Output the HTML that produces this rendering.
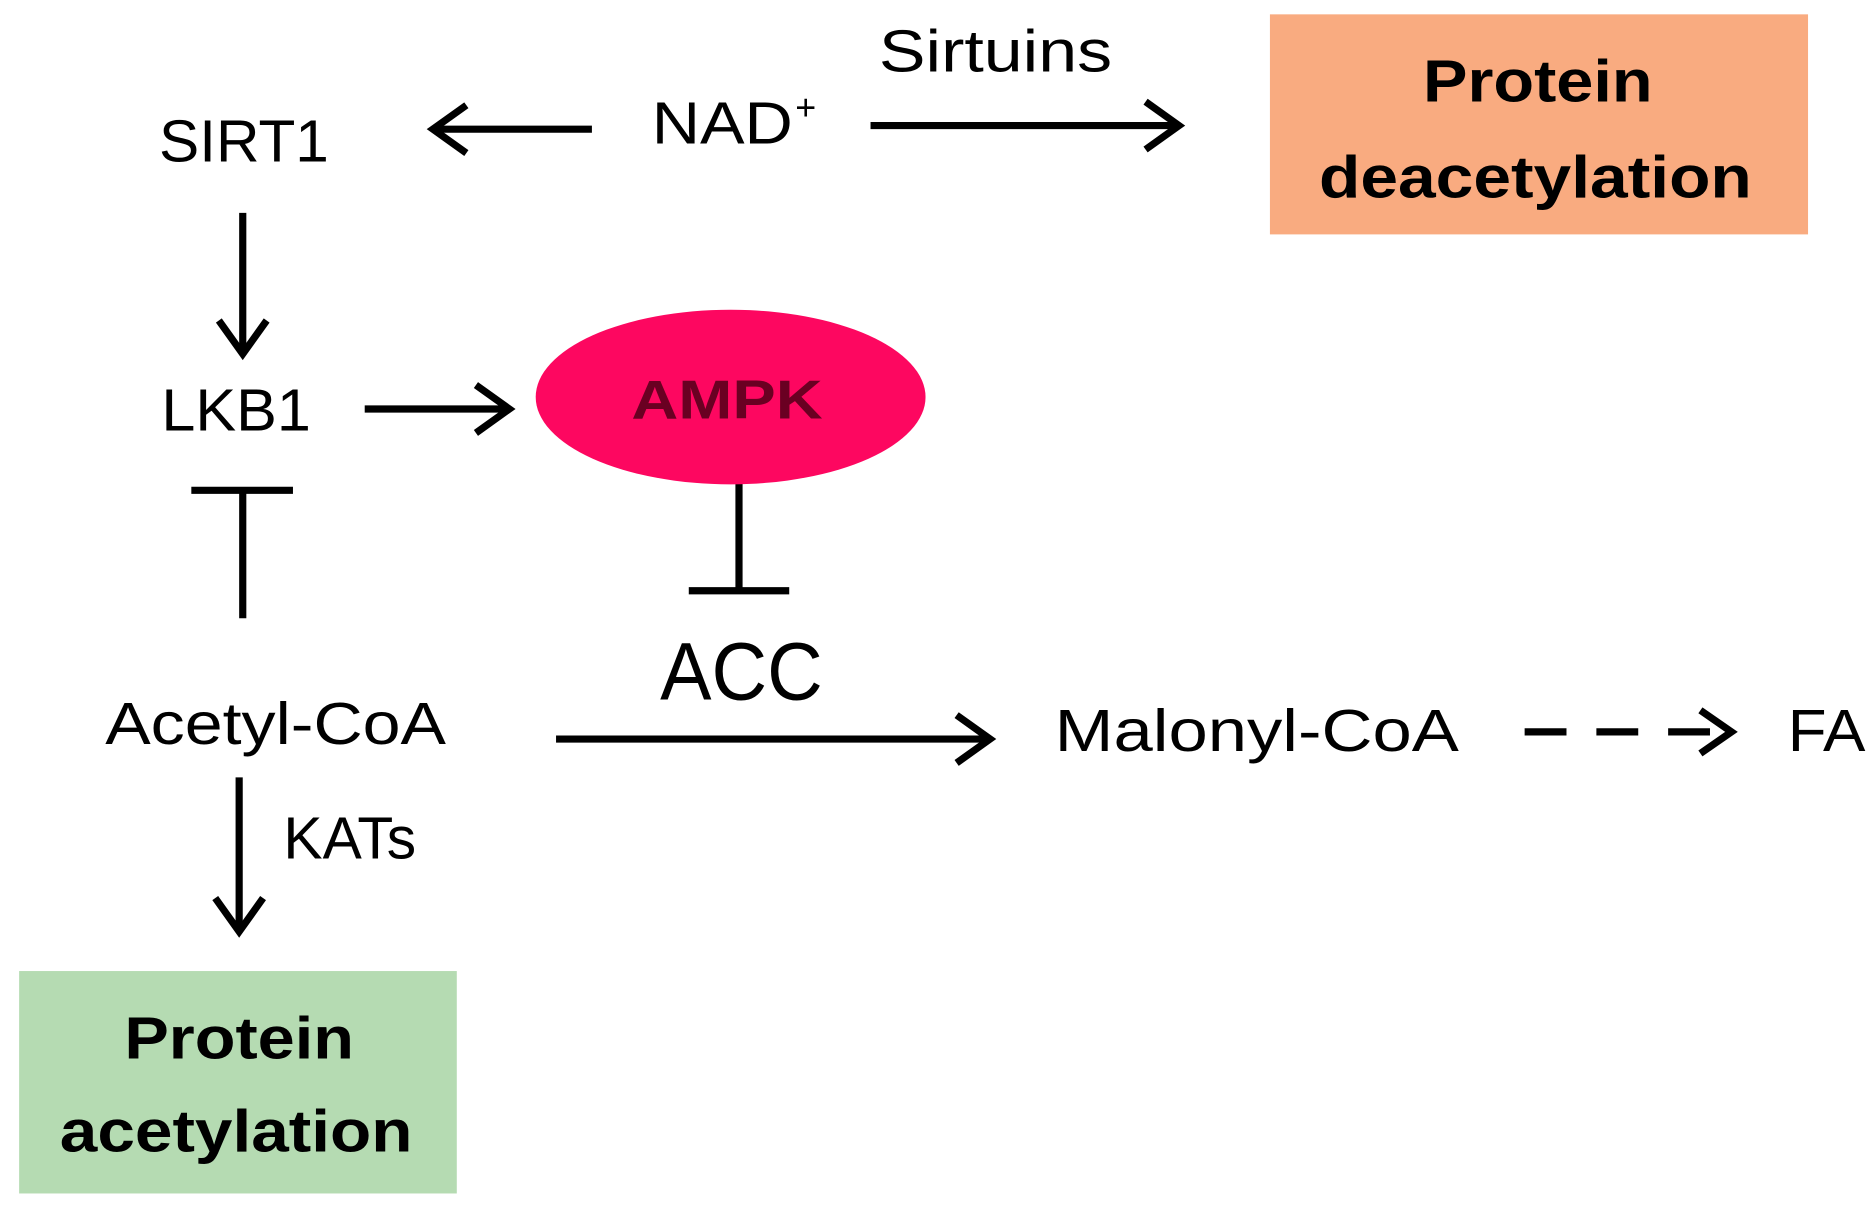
<!DOCTYPE html>
<html><head><meta charset="utf-8"><style>html,body{margin:0;padding:0;background:#fff}svg{display:block}</style></head>
<body>
<svg width="1875" height="1215" viewBox="0 0 1568 1016" preserveAspectRatio="none" xmlns="http://www.w3.org/2000/svg" font-family="'Liberation Sans', sans-serif">
<defs>
<marker id="a" viewBox="0 0 20 20" refX="17" refY="10" markerWidth="6" markerHeight="6" markerUnits="userSpaceOnUse" orient="auto" overflow="visible">
<path d="M-2,-12 L17,10 L-2,32" fill="none" stroke="#000" stroke-width="6" transform="scale(1)"/>
</marker>
</defs>
<g stroke="#000" stroke-width="6" fill="none">
<!-- NAD -> SIRT1 -->
<line x1="495" y1="108" x2="362" y2="108"/><polyline points="390,88 362,108 390,128"/>
<!-- NAD -> Protein deacetylation -->
<line x1="728" y1="105" x2="986" y2="105"/><polyline points="958,85 986,105 958,125"/>
<!-- SIRT1 -> LKB1 -->
<line x1="203" y1="178" x2="203" y2="296"/><polyline points="183,268 203,296 223,268"/>
<!-- LKB1 -> AMPK -->
<line x1="305" y1="342" x2="426" y2="342"/><polyline points="398,322 426,342 398,362"/>
<!-- Acetyl-CoA -| LKB1 -->
<line x1="203" y1="517" x2="203" y2="410"/><line x1="160" y1="410" x2="245" y2="410"/>
<!-- AMPK -| ACC -->
<line x1="618" y1="395" x2="618" y2="494"/><line x1="576" y1="494" x2="660" y2="494"/>
<!-- Acetyl-CoA -> Malonyl-CoA -->
<line x1="465" y1="618" x2="828" y2="618"/><polyline points="800,598 828,618 800,638"/>
<!-- Malonyl -> FA dashed -->
<line x1="1275" y1="612" x2="1448" y2="612" stroke-dasharray="35,25"/><polyline points="1422,594 1448,612 1422,630"/>
<!-- Acetyl-CoA -> Protein acetylation -->
<line x1="200" y1="650" x2="200" y2="779"/><polyline points="180,751 200,779 220,751"/>
</g>
<rect x="1062" y="12" width="450" height="184" fill="#f9ab80"/>
<rect x="16" y="812" width="366" height="186" fill="#b5dbb2"/>
<ellipse cx="611" cy="332" rx="163" ry="73" fill="#fd0760"/>
<g fill="#000" font-size="50">
<text x="735" y="60" textLength="195" lengthAdjust="spacingAndGlyphs">Sirtuins</text>
<text x="133" y="135" textLength="142" lengthAdjust="spacingAndGlyphs">SIRT1</text>
<text x="545" y="120" textLength="118" lengthAdjust="spacingAndGlyphs">NAD</text>
<text x="665" y="100" font-size="30">+</text>
<text x="135" y="360" textLength="125" lengthAdjust="spacingAndGlyphs">LKB1</text>
<text x="552" y="585" font-size="68" textLength="136" lengthAdjust="spacingAndGlyphs">ACC</text>
<text x="88" y="622" textLength="285" lengthAdjust="spacingAndGlyphs">Acetyl-CoA</text>
<text x="882" y="628" textLength="338" lengthAdjust="spacingAndGlyphs">Malonyl-CoA</text>
<text x="1495" y="628" textLength="65" lengthAdjust="spacingAndGlyphs">FA</text>
<text x="237" y="718" textLength="111" lengthAdjust="spacingAndGlyphs">KATs</text>
</g>
<g font-weight="bold" font-size="50" fill="#000">
<text x="1190" y="85" textLength="192" lengthAdjust="spacingAndGlyphs">Protein</text>
<text x="1103" y="165" textLength="362" lengthAdjust="spacingAndGlyphs">deacetylation</text>
<text x="104" y="885" textLength="192" lengthAdjust="spacingAndGlyphs">Protein</text>
<text x="50" y="963" textLength="295" lengthAdjust="spacingAndGlyphs">acetylation</text>
<text x="528" y="350" font-size="46" fill="#6a0022" textLength="160" lengthAdjust="spacingAndGlyphs">AMPK</text>
</g>
</svg>
</body></html>
